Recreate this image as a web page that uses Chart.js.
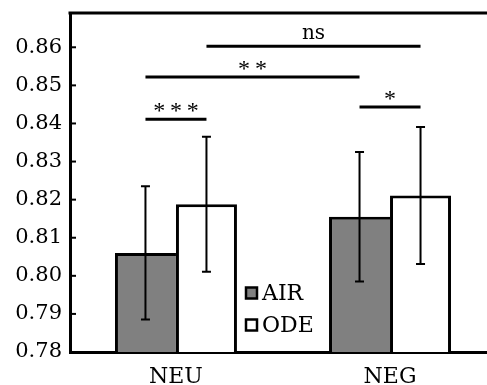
<!DOCTYPE html>
<html>
<head>
<meta charset="utf-8">
<script src="https://cdn.jsdelivr.net/npm/chart.js@4.4.0/dist/chart.umd.min.js"></script>
<style>
  html, body { margin: 0; padding: 0; background: #fff; }
  #wrap { width: 487px; height: 385px; }
</style>
</head>
<body>
<div id="wrap"><canvas id="chart"></canvas></div>
<script>
// data
const categories = ["NEU", "NEG"];
const seriesNames = ["AIR", "ODE"];
const airMeans = [0.806, 0.8155];
const odeMeans = [0.8188, 0.8211];
const airErrors = [0.0175, 0.017];
const odeErrors = [0.0177, 0.018];
const yTicks = [0.78, 0.79, 0.80, 0.81, 0.82, 0.83, 0.84, 0.85, 0.86];

// significance brackets: start [series, category], end [series, category], height, label
const sigStart = [[0, 0], [0, 0], [0, 1], [1, 0]];
const sigEnd = [[1, 0], [0, 1], [1, 1], [1, 1]];
const sigLevels = [0.8411, 0.8522, 0.8443, 0.8603];
const sigLabels = ["***", "**", "*", "ns"];

const FONT = "'DejaVu Serif', serif";
const STAR_FONT = "'Liberation Serif', serif";
const fills = ["#808080", "#ffffff"];

function points(means) {
  return means.map((m, i) => ({ x: i + 1, y: m }));
}

const errorBars = {
  id: "errorBars",
  afterDatasetsDraw(chart) {
    const ctx = chart.ctx;
    const y = chart.scales.y;
    const errs = [airErrors, odeErrors];
    const means = [airMeans, odeMeans];
    ctx.save();
    ctx.strokeStyle = "#000";
    ctx.lineWidth = 2;
    chart.data.datasets.forEach((ds, d) => {
      chart.getDatasetMeta(d).data.forEach((bar, i) => {
        const top = y.getPixelForValue(means[d][i] + errs[d][i]);
        const bot = y.getPixelForValue(means[d][i] - errs[d][i]);
        ctx.beginPath();
        ctx.moveTo(bar.x, top);
        ctx.lineTo(bar.x, bot);
        ctx.moveTo(bar.x - 4.5, top);
        ctx.lineTo(bar.x + 4.5, top);
        ctx.moveTo(bar.x - 4.5, bot);
        ctx.lineTo(bar.x + 4.5, bot);
        ctx.stroke();
      });
    });
    ctx.restore();
  },
};

const extras = {
  id: "extras",
  afterDraw(chart) {
    const ctx = chart.ctx;
    const area = chart.chartArea;
    const y = chart.scales.y;
    ctx.save();
    ctx.strokeStyle = "#000";

    // top frame line
    ctx.lineWidth = 3;
    ctx.beginPath();
    ctx.moveTo(area.left - 1.5, area.top);
    ctx.lineTo(area.right, area.top);
    ctx.stroke();

    // inward ticks on the y axis
    ctx.lineWidth = 2;
    yTicks.forEach((v) => {
      const py = y.getPixelForValue(v);
      ctx.beginPath();
      ctx.moveTo(area.left, py);
      ctx.lineTo(area.left + 6, py);
      ctx.stroke();
    });

    // significance brackets
    ctx.lineWidth = 3;
    ctx.fillStyle = "#000";
    ctx.textAlign = "center";
    ctx.textBaseline = "alphabetic";
    sigLabels.forEach((lab, k) => {
      const a = chart.getDatasetMeta(sigStart[k][0]).data[sigStart[k][1]];
      const b = chart.getDatasetMeta(sigEnd[k][0]).data[sigEnd[k][1]];
      const py = y.getPixelForValue(sigLevels[k]);
      ctx.beginPath();
      ctx.moveTo(a.x, py);
      ctx.lineTo(b.x, py);
      ctx.stroke();
      const mid = (a.x + b.x) / 2;
      if (lab === "ns") {
        ctx.font = "20px " + FONT;
        ctx.fillText(lab, mid, py - 7);
      } else {
        ctx.font = "24px " + STAR_FONT;
        ctx.fillText(lab.split("").join("\u2009"), mid, py - 1);
      }
    });

    // legend inside the plot
    ctx.font = "22px " + FONT;
    ctx.textAlign = "left";
    ctx.textBaseline = "middle";
    ctx.lineWidth = 2.5;
    const lx = area.left + 176;
    seriesNames.forEach((name, k) => {
      const cy = area.top + 280 + k * 32;
      ctx.fillStyle = fills[k];
      ctx.fillRect(lx, cy - 5.5, 11, 11);
      ctx.strokeRect(lx, cy - 5.5, 11, 11);
      ctx.fillStyle = "#000";
      ctx.fillText(name, lx + 16, cy + 1);
    });
    ctx.restore();
  },
};

new Chart(document.getElementById("chart"), {
  type: "bar",
  data: {
    datasets: [
      {
        label: seriesNames[0],
        data: points(airMeans),
        backgroundColor: fills[0],
        borderColor: "#000",
        // right edge is shared with the ODE bar's left border
        borderWidth: { top: 3, left: 3, right: 0, bottom: 0 },
        borderSkipped: "start",
        inflateAmount: 0,
        barThickness: 61,
      },
      {
        label: seriesNames[1],
        data: points(odeMeans),
        backgroundColor: fills[1],
        borderColor: "#000",
        borderWidth: 3,
        borderSkipped: "start",
        inflateAmount: 0,
        barThickness: 61,
      },
    ],
  },
  options: {
    responsive: true,
    maintainAspectRatio: false,
    animation: false,
    layout: { padding: { top: 13, right: 0, left: 0, bottom: 0 } },
    plugins: {
      legend: { display: false },
      tooltip: { enabled: false },
    },
    scales: {
      x: {
        type: "linear",
        min: 0.505,
        max: 2.453,
        offset: false,
        z: 1,
        grid: { display: false, offset: false, drawTicks: false },
        border: { display: true, color: "#000", width: 3 },
        afterBuildTicks: (scale) => {
          scale.ticks = categories.map((c, i) => ({ value: i + 1 }));
        },
        afterFit: (scale) => {
          scale.height = 33;
          scale.paddingLeft = 0;
          scale.paddingRight = 0;
        },
        ticks: {
          color: "#000",
          padding: 12,
          maxRotation: 0,
          font: { family: FONT, size: 22 },
          callback: (v) => categories[v - 1],
        },
      },
      y: {
        min: 0.78,
        max: 0.869,
        z: 1,
        grid: { display: false, drawTicks: false },
        border: { display: true, color: "#000", width: 3 },
        afterBuildTicks: (scale) => {
          scale.ticks = yTicks.map((v) => ({ value: v }));
        },
        afterFit: (scale) => {
          scale.width = 70;
          scale.paddingTop = 0;
          scale.paddingBottom = 0;
        },
        ticks: {
          color: "#000",
          padding: 8,
          font: { family: FONT, size: 21 },
          callback: (v) => v.toFixed(2),
        },
      },
    },
  },
  plugins: [errorBars, extras],
});
</script>
</body>
</html>
